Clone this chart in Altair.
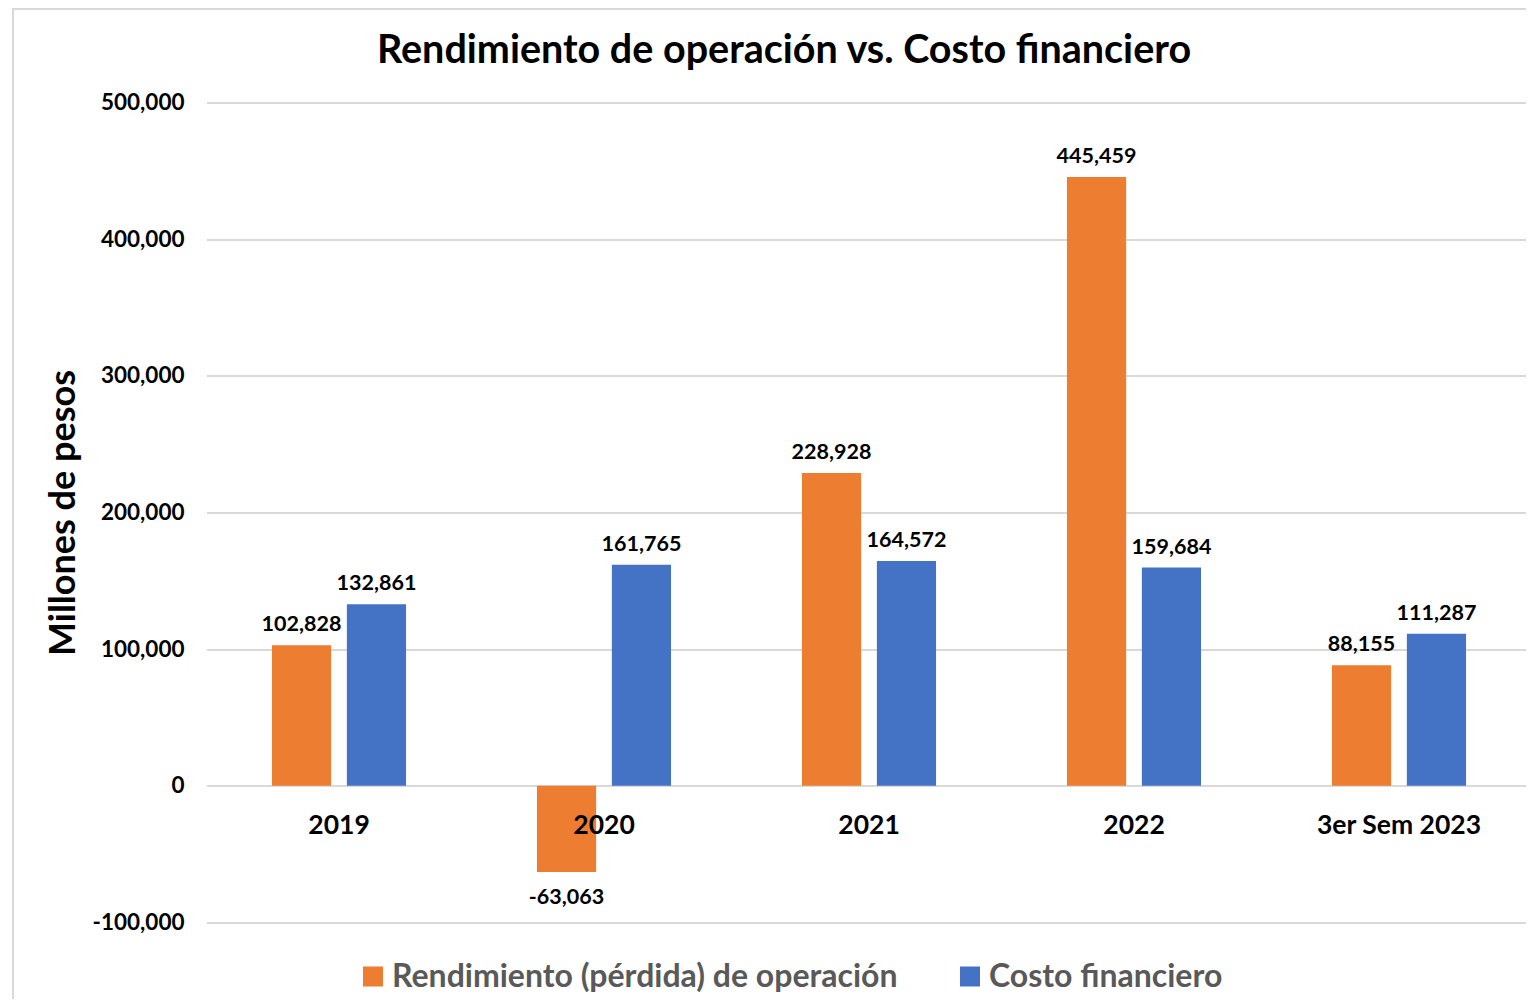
import altair as alt
import pandas as pd

categories = ["2019", "2020", "2021", "2022", "3er Sem 2023"]
series = ["Rendimiento (pérdida) de operación", "Costo financiero"]
rendimiento = [102828, -63063, 228928, 445459, 88155]
costo = [132861, 161765, 164572, 159684, 111287]
colors = ["#ED7D31", "#4472C4"]
title_text = "Rendimiento de operación vs. Costo financiero"

rows = []
for i, c in enumerate(categories):
    rows.append({"cat": c, "serie": series[0], "valor": rendimiento[i]})
    rows.append({"cat": c, "serie": series[1], "valor": costo[i]})
df = pd.DataFrame(rows)
df["etiqueta"] = df["valor"].map(lambda v: f"{v:,}")

W, H = 1318, 820
PAD_L, PAD_T = 200, 94.5
FONT = "Lato"

x_enc = alt.X("cat:N", sort=categories,
              scale=alt.Scale(paddingInner=0.494, paddingOuter=0.247, range=[-1.5, 1323.5]),
              axis=alt.Axis(title=None, domain=False, ticks=False, labelAngle=0,
                            labelFont=FONT, labelFontSize=26.5, labelFontWeight="bold",
                            labelColor="#000000", labelPadding=27, offset=-136.7, zindex=2))
xoff = alt.XOffset("serie:N", sort=series, scale=alt.Scale(paddingInner=0.21, paddingOuter=0))
y_enc = alt.Y("valor:Q",
              scale=alt.Scale(domain=[-100000, 500000], nice=False),
              axis=alt.Axis(title="Millones de pesos", values=[-100000, 0, 100000, 200000, 300000, 400000, 500000],
                            labelExpr="replace(format(datum.value, ',d'), '\u2212', '-')",
                            domain=False, ticks=False, gridColor="#D9D9D9", gridWidth=2,
                            labelFont=FONT, labelFontSize=22.5, labelFontWeight="bold", labelColor="#000000",
                            labelPadding=24, titleFont=FONT, titleFontSize=36, titleFontWeight="bold",
                            titleColor="#000000", titlePadding=10))

bars = alt.Chart(df).mark_bar().encode(
    x=x_enc, xOffset=xoff, y=y_enc,
    color=alt.Color("serie:N", sort=series, scale=alt.Scale(domain=series, range=colors),
                    legend=alt.Legend(title=None, orient="none", direction="horizontal",
                                      legendX=149, legendY=858, symbolType="square", symbolSize=400,
                                      symbolStrokeWidth=0, labelFont=FONT, labelFontSize=32,
                                      labelFontWeight="bold", labelColor="#595959", labelOffset=3,
                                      columnPadding=56, labelLimit=900))
)

pos = alt.Chart(df).transform_filter("datum.valor >= 0").mark_text(
    baseline="bottom", dy=-9, font=FONT, fontSize=21.5, fontWeight="bold", color="#000000"
).encode(x=alt.X("cat:N", sort=categories), xOffset=xoff, y="valor:Q", text="etiqueta:N")

neg = alt.Chart(df).transform_filter("datum.valor < 0").mark_text(
    baseline="top", dy=15, font=FONT, fontSize=21.5, fontWeight="bold", color="#000000"
).encode(x=alt.X("cat:N", sort=categories), xOffset=xoff, y="valor:Q", text="etiqueta:N")

border = alt.Chart(pd.DataFrame({"a": [0]})).mark_rect(
    fill=None, stroke="#D9D9D9", strokeWidth=2, clip=False
).encode(x=alt.value(-195), x2=alt.value(W + 50), y=alt.value(-93.5), y2=alt.value(H + 200))

title = alt.Chart(pd.DataFrame({"t": [title_text]})).mark_text(
    font=FONT, fontSize=39.5, fontWeight="bold", color="#000000", baseline="alphabetic", align="center"
).encode(x=alt.value(576), y=alt.value(-39.5), text="t:N")

chart = alt.layer(border, bars, pos, neg, title).properties(
    width=W, height=H,
    autosize=alt.AutoSizeParams(type="none"),
    padding={"left": PAD_L, "top": PAD_T, "right": 0, "bottom": 76},
).configure(background="white").configure_view(strokeWidth=0, stroke="transparent")

chart.save("out.html", embed_options={"renderer": "svg", "actions": False})
